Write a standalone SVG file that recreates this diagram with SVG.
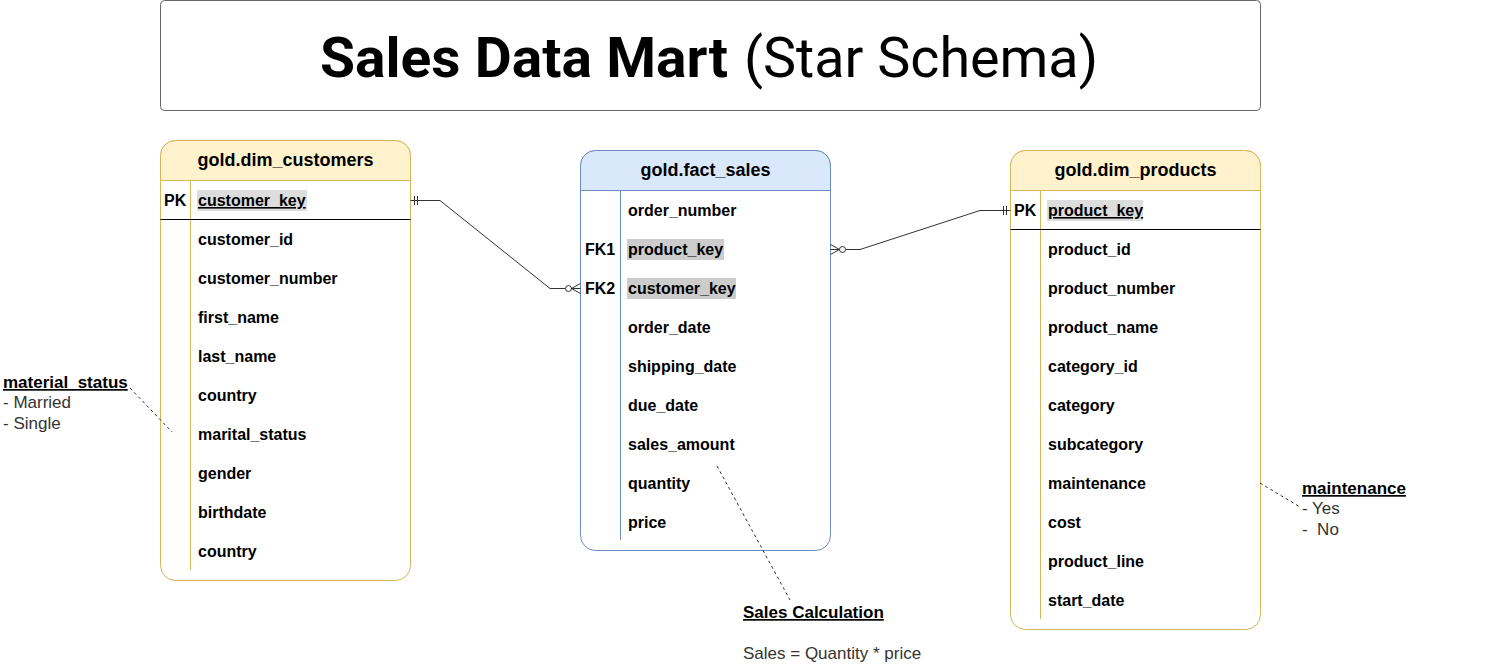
<svg xmlns="http://www.w3.org/2000/svg" width="1500" height="667" viewBox="0 0 1500 667">
<style>
text{font-family:"Liberation Sans",Arial,sans-serif;fill:#000}
.f{font-size:16px;font-weight:bold}
.h{font-size:18px;font-weight:bold;text-anchor:middle}
.nb{font-size:17px;font-weight:bold}
.n{font-size:17px;fill:#333}
.u{text-decoration:underline}
.yel{fill:#fff;stroke:#d6b656;stroke-width:1}
.yh{fill:#fff2cc;stroke:#d6b656}
.blu{fill:#fff;stroke:#6c8ebf;stroke-width:1}
.bh{fill:#dae8fc;stroke:#6c8ebf}
.dy{stroke:#d6b656;fill:none}
.db{stroke:#6c8ebf;fill:none}
.sep{stroke:#000;stroke-width:1}
.conn{fill:none;stroke:#333;stroke-width:1}
.note{fill:none;stroke:#333;stroke-width:1;stroke-dasharray:3,3}
.pkbg{fill:#dddddd}
.fkbg{fill:#cccccc}
</style>
<rect x="0" y="0" width="1500" height="667" fill="#fff"/>
<g id="title">
<rect x="160.5" y="0.5" width="1100" height="110" rx="4" fill="#fff" stroke="#666"/>
<text x="320" y="77" font-size="56" font-weight="bold" textLength="408" lengthAdjust="spacingAndGlyphs" style="font-family:Roboto,'Noto Sans',sans-serif">Sales Data Mart</text>
<text x="744" y="77" font-size="56" textLength="354" lengthAdjust="spacingAndGlyphs" style="font-family:Roboto,'Noto Sans',sans-serif">(Star Schema)</text>
</g>
<g id="dim_customers">
<rect class="yel" x="160.5" y="140.5" width="250" height="440" rx="15"/>
<path class="yh" d="M160.5,180.5 V155.5 A15,15 0 0 1 175.5,140.5 H395.5 A15,15 0 0 1 410.5,155.5 V180.5 Z"/>
<text class="h" x="285.5" y="166">gold.dim_customers</text>
<line class="dy" x1="190.5" y1="180.5" x2="190.5" y2="570"/>
<line class="sep" x1="160.5" y1="219.5" x2="410.5" y2="219.5"/>
<text class="f" x="164" y="206">PK</text>
<rect class="pkbg" x="197" y="190" width="110" height="21"/>
<text class="f u" x="198" y="206">customer_key</text>
<text class="f" x="198" y="245">customer_id</text>
<text class="f" x="198" y="284">customer_number</text>
<text class="f" x="198" y="323">first_name</text>
<text class="f" x="198" y="362">last_name</text>
<text class="f" x="198" y="401">country</text>
<text class="f" x="198" y="440">marital_status</text>
<text class="f" x="198" y="479">gender</text>
<text class="f" x="198" y="518">birthdate</text>
<text class="f" x="198" y="557">country</text>
</g>
<g id="fact_sales">
<rect class="blu" x="580.5" y="150.5" width="250" height="400" rx="15"/>
<path class="bh" d="M580.5,190.5 V165.5 A15,15 0 0 1 595.5,150.5 H815.5 A15,15 0 0 1 830.5,165.5 V190.5 Z"/>
<text class="h" x="705.5" y="176">gold.fact_sales</text>
<line class="db" x1="620.5" y1="190.5" x2="620.5" y2="540"/>
<text class="f" x="628" y="216">order_number</text>
<text class="f" x="585" y="255">FK1</text>
<rect class="fkbg" x="627" y="239" width="97" height="21"/>
<text class="f" x="628" y="255">product_key</text>
<text class="f" x="585" y="294">FK2</text>
<rect class="fkbg" x="627" y="278" width="109" height="21"/>
<text class="f" x="628" y="294">customer_key</text>
<text class="f" x="628" y="333">order_date</text>
<text class="f" x="628" y="372">shipping_date</text>
<text class="f" x="628" y="411">due_date</text>
<text class="f" x="628" y="450">sales_amount</text>
<text class="f" x="628" y="489">quantity</text>
<text class="f" x="628" y="528">price</text>
</g>
<g id="dim_products">
<rect class="yel" x="1010.5" y="150.5" width="250" height="479" rx="15"/>
<path class="yh" d="M1010.5,190.5 V165.5 A15,15 0 0 1 1025.5,150.5 H1245.5 A15,15 0 0 1 1260.5,165.5 V190.5 Z"/>
<text class="h" x="1135.5" y="176">gold.dim_products</text>
<line class="dy" x1="1040.5" y1="190.5" x2="1040.5" y2="619"/>
<line class="sep" x1="1010.5" y1="229.5" x2="1260.5" y2="229.5"/>
<text class="f" x="1014" y="216">PK</text>
<rect class="pkbg" x="1047" y="200" width="96" height="21"/>
<text class="f u" x="1048" y="216">product_key</text>
<text class="f" x="1048" y="255">product_id</text>
<text class="f" x="1048" y="294">product_number</text>
<text class="f" x="1048" y="333">product_name</text>
<text class="f" x="1048" y="372">category_id</text>
<text class="f" x="1048" y="411">category</text>
<text class="f" x="1048" y="450">subcategory</text>
<text class="f" x="1048" y="489">maintenance</text>
<text class="f" x="1048" y="528">cost</text>
<text class="f" x="1048" y="567">product_line</text>
<text class="f" x="1048" y="606">start_date</text>
</g>
<g id="connectors">
<polyline class="conn" points="410.5,200.5 440,200.5 550,288.5 565,288.5"/>
<line class="conn" x1="414.5" y1="196" x2="414.5" y2="205"/>
<line class="conn" x1="417.5" y1="196" x2="417.5" y2="205"/>
<circle class="conn" cx="568.5" cy="288.5" r="3" fill="#fff"/>
<polyline class="conn" points="580.5,283.5 571.5,288.5 580.5,293.5"/>
<line class="conn" x1="571.5" y1="288.5" x2="580.5" y2="288.5"/>
<polyline class="conn" points="1010.5,210.5 980,210.5 860,249.5 845.5,249.5"/>
<line class="conn" x1="1003.5" y1="206" x2="1003.5" y2="215"/>
<line class="conn" x1="1006.5" y1="206" x2="1006.5" y2="215"/>
<circle class="conn" cx="842.5" cy="249.5" r="3" fill="#fff"/>
<polyline class="conn" points="830.5,244.5 839.5,249.5 830.5,254.5"/>
<line class="conn" x1="830.5" y1="249.5" x2="839.5" y2="249.5"/>
<line class="note" x1="130" y1="388" x2="172" y2="432"/>
<line class="note" x1="1260" y1="483" x2="1300" y2="507"/>
<line class="note" x1="717" y1="466" x2="790" y2="600"/>
</g>
<g id="note_marital">
<text class="nb u" x="3" y="388">material_status</text>
<text class="n" x="3" y="408">- Married</text>
<text class="n" x="3" y="429">- Single</text>
</g>
<g id="note_maintenance">
<text class="nb u" x="1302" y="494">maintenance</text>
<text class="n" x="1302" y="514">- Yes</text>
<text class="n" x="1302" y="535" xml:space="preserve">-  No</text>
</g>
<g id="note_sales">
<text class="nb u" x="743" y="618">Sales Calculation</text>
<text class="n" x="743" y="659">Sales = Quantity * price</text>
</g>
</svg>
